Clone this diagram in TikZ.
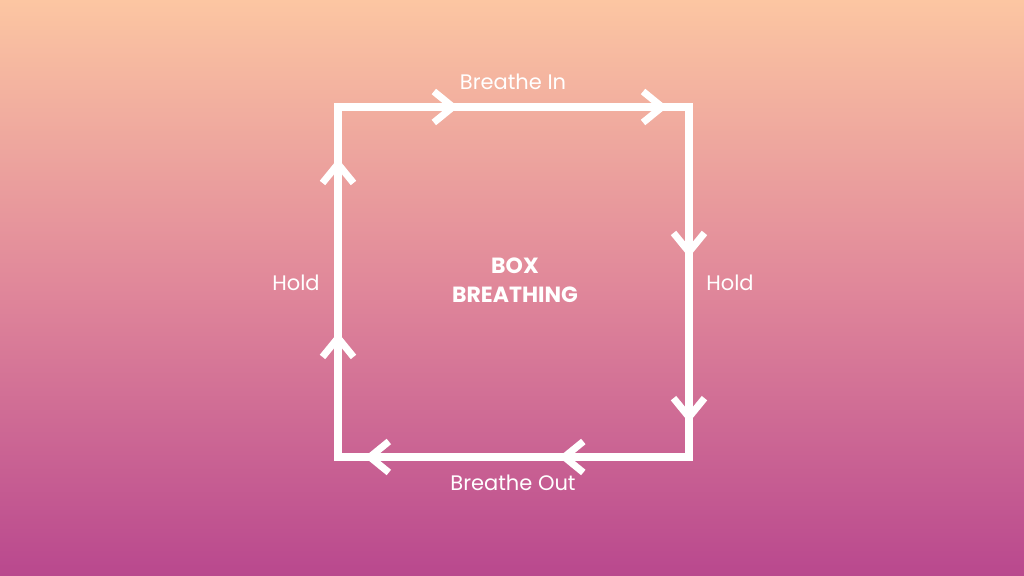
\documentclass[tikz,border=0pt]{standalone}
\usepackage{fontspec}
\setmainfont{Poppins}
\usetikzlibrary{arrows.meta,decorations.markings}
\definecolor{peach}{HTML}{FCC6A2}
\definecolor{rose}{HTML}{E0879A}
\definecolor{plum}{HTML}{B9488E}
\tikzset{
	barb/.tip={Straight Barb[length=9.5pt,width=15.5pt,line width=3.5pt]},
	boxline/.style={white,line width=3.6pt,line join=miter},
	barbs/.style 2 args={white,postaction={decorate,decoration={markings,
		mark=at position #1 with {\arrow{barb}},
		mark=at position #2 with {\arrow{barb}}}}},
	lbl/.style={text=white,font=\fontsize{10.5}{12}\selectfont},
	title/.style={text=white,align=center,font=\fontsize{11}{14.5}\selectfont\bfseries}
}
\begin{document}
\begin{tikzpicture}[x=0.5pt,y=-0.5pt]
	% background
	\path[top color=peach,bottom color=plum,middle color=rose] (0,0) rectangle (1024,576);
	\useasboundingbox (0,0) rectangle (1024,576);

	\coordinate (tl) at (338,107);
	\coordinate (tr) at (689,107);
	\coordinate (br) at (689,457);
	\coordinate (bl) at (338,457);

	\draw[boxline] (tl) -- (tr) -- (br) -- (bl) -- cycle;

	\path[barbs={0.343}{0.939}] (tl) -- (tr);
	\path[barbs={0.43}{0.902}] (tr) -- (br);
	\path[barbs={0.371}{0.925}] (br) -- (bl);
	\path[barbs={0.356}{0.853}] (bl) -- (tl);

	\node[lbl] (in) at (513,82) {Breathe In};
	\node[lbl] (holdr) at (730,283) {Hold};
	\node[lbl] (out) at (513,483) {Breathe Out};
	\node[lbl] (holdl) at (296,283) {Hold};
	\node[title] (box) at (515,280) {BOX\\BREATHING};
\end{tikzpicture}
\end{document}
